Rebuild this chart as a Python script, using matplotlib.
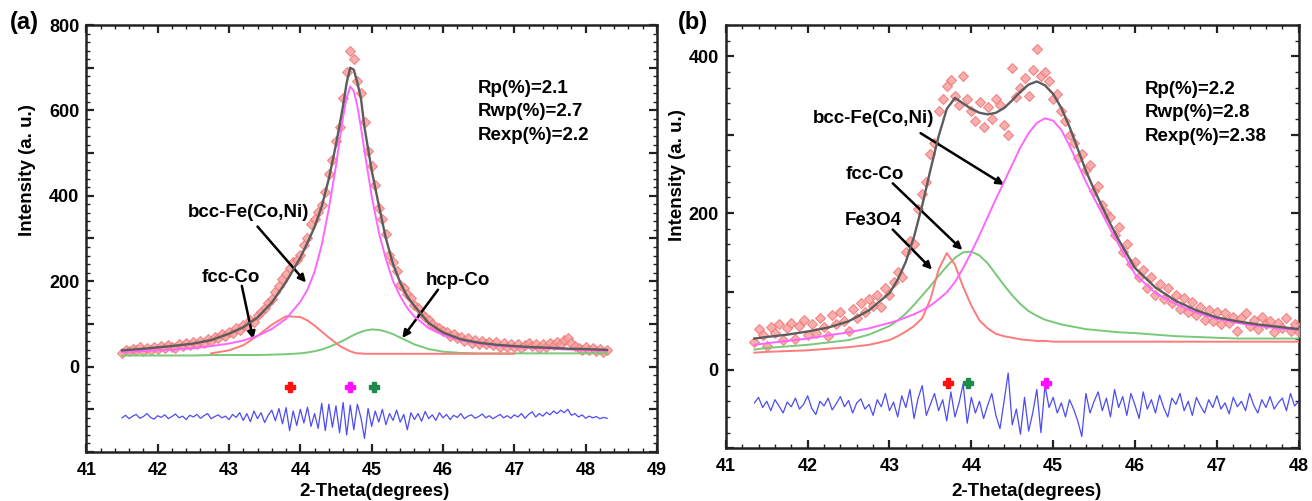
import numpy as np
import matplotlib
matplotlib.use('Agg')
import matplotlib.pyplot as plt
from matplotlib.ticker import MultipleLocator, FuncFormatter

plt.rcParams['font.family'] = ['Liberation Sans', 'DejaVu Sans']
plt.rcParams['font.weight'] = 'bold'

#%% data, panel (a)

xa_fit = [41.5, 41.75, 42.0, 42.25, 42.5, 42.75, 43.0, 43.2, 43.4, 43.6, 43.8,
          44.0, 44.1, 44.2, 44.3, 44.4, 44.5, 44.55, 44.6, 44.65, 44.7, 44.75,
          44.8, 44.85, 44.9, 45.0, 45.1, 45.2, 45.3, 45.4, 45.5, 45.6, 45.8,
          46.0, 46.25, 46.5, 46.75, 47.0, 47.25, 47.5, 47.75, 48.0, 48.3]
tot_a = [38, 41, 45, 49, 54, 62, 77, 92, 115, 150, 198, 255, 290, 327, 375, 440,
         520, 565, 612, 665, 700, 695, 665, 628, 560, 460, 378, 300, 240, 197,
         164, 142, 102, 80, 64, 56, 51, 48, 45.5, 44, 42, 41, 39]
bcc_a = [34, 36, 38, 40, 43, 48, 54, 61, 72, 88, 112, 152, 180, 222, 285, 370,
         470, 530, 585, 630, 656, 645, 610, 560, 505, 400, 315, 252, 200, 165,
         137, 117, 90, 74, 62, 54, 49, 46, 44, 42, 40, 39, 37]
fcc_a = [None, None, None, None, None, 31, 38, 50, 72, 98, 118, 116, 108, 96, 82,
         68, 55, 49, 44, 40, 36, 33, 31, 31, 30, 30, 30, 30, 30, 30, 30, 30, 30,
         30, 30, 30, 30, 30, None, None, None, None, None]
hcp_a = [26, 26, 26, 26, 26, 27, 27, 27, 27, 28, 29, 31, 33, 36, 40, 46, 53, 57,
         61, 65, 70, 74, 78, 81, 84, 87, 86, 82, 76, 68, 60, 52, 41, 35, 32, 31,
         31, 31, 31, 31, 31, 31, 31]

# observed intensities, 41.50 -> 48.30 every 0.05
obs_a = [33, 40, 36, 42, 38, 45, 37, 44, 40, 47,
         42, 49, 44, 51, 46, 43, 53, 48, 55, 50,
         58, 53, 61, 56, 65, 60, 70, 66, 76, 72,
         82, 79, 90, 86, 98, 95, 108, 104, 120, 128,
         138, 150, 158, 175, 188, 205, 218, 232, 245, 250,
         262, 285, 300, 335, 345, 362, 378, 410, 450, 485,
         528, 560, 628, 690, 740, 720, 668, 640, 572, 505,
         470, 425, 372, 345, 310, 262, 245, 225, 190, 185,
         170, 160, 145, 138, 124, 116, 108, 100, 92, 90,
         84, 80, 72, 76, 66, 70, 60, 66, 56, 63,
         54, 61, 52, 58, 50, 57, 47, 55, 46, 53,
         45, 52, 44, 50, 55, 48, 53, 44, 52, 47,
         56, 50, 58, 52, 63, 68, 55, 48, 44, 40,
         45, 38, 43, 36, 41, 34, 38]
diff_a = [-120, -114, -122, -116, -112, -121, -117, -110, -119, -123,
          -115, -119, -113, -122, -117, -111, -120, -116, -124, -114,
          -118, -112, -121, -115, -110, -122, -117, -113, -120, -116,
          -124, -112, -119, -108, -126, -110, -129, -104, -122, -108,
          -131, -114, -102, -127, -98, -134, -96, -150, -104, -138,
          -100, -132, -95, -140, -110, -145, -86, -150, -88, -142,
          -92, -155, -84, -160, -90, -148, -88, -120, -168, -98,
          -140, -104, -130, -100, -136, -110, -126, -102, -130, -112,
          -148, -108, -124, -110, -128, -105, -122, -113, -126, -108,
          -120, -112, -124, -114, -119, -110, -122, -116, -113, -121,
          -117, -111, -120, -115, -122, -117, -112, -120, -115, -121,
          -113, -118, -110, -121, -112, -106, -118, -110, -116, -107,
          -113, -104, -110, -102, -108, -100, -114, -110, -118, -113,
          -121, -116, -120, -117, -122, -119, -121]
refl_a = [43.85, 44.69, 45.03]
refl_a_col = ['#ff1010', '#ff10ff', '#1f8a4c']

#%% data, panel (b)

xb_fit = [41.35, 41.5, 41.75, 42.0, 42.25, 42.5, 42.75, 43.0, 43.1, 43.2, 43.3,
          43.4, 43.5, 43.6, 43.7, 43.8, 43.9, 44.0, 44.1, 44.2, 44.3, 44.4, 44.5,
          44.6, 44.7, 44.8, 44.9, 45.0, 45.1, 45.2, 45.3, 45.4, 45.5, 45.6, 45.7,
          45.8, 46.0, 46.25, 46.5, 46.75, 47.0, 47.25, 47.5, 47.75, 48.0]
tot_b = [40, 42, 45, 49, 54, 62, 76, 98, 115, 138, 170, 210, 255, 298, 333, 347,
         340, 333, 328, 326, 328, 334, 344, 355, 364, 368, 363, 352, 334, 310,
         282, 254, 230, 208, 186, 166, 130, 105, 88, 76, 67, 62, 58, 55, 52]
bcc_b = [32, 34, 37, 40, 44, 48, 53, 60, 63, 67, 71, 76, 82, 90, 99, 112, 130,
         150, 172, 195, 218, 240, 262, 284, 302, 315, 321, 318, 306, 286, 263,
         240, 219, 199, 179, 160, 122, 98, 84, 73, 65, 60, 56, 53, 51]
fe3o4_b = [22, 23, 24, 25, 27, 29, 32, 38, 43, 49, 56, 66, 90, 128, 149, 134,
           106, 82, 63, 53, 46, 43, 41, 39, 38, 37, 37, 36, 36, 36, 36, 36, 36,
           36, 36, 36, 36, 36, 36, 36, 36, 36, 36, 36, 36]
fcc_b = [26, 28, 30, 32, 35, 38, 45, 56, 63, 72, 83, 95, 107, 120, 132, 143, 150,
         151, 146, 136, 122, 108, 95, 84, 75, 69, 64, 61, 58, 56, 54, 52, 51, 50,
         49, 48, 47, 45, 43, 42, 41, 40, 40, 40, 40]

# observed intensities, 41.35 -> 48.00 every 0.05
obs_b = [36, 52, 44, 30, 55, 47, 58, 38, 53, 60,
         40, 56, 64, 45, 59, 47, 66, 55, 43, 70,
         58, 74, 62, 50, 78, 66, 85, 74, 90, 82,
         96, 80, 104, 95, 112, 125, 118, 150, 165, 160,
         205, 225, 240, 275, 290, 330, 345, 362, 370, 350,
         338, 375, 345, 330, 318, 342, 310, 336, 320, 345,
         338, 312, 300, 385, 348, 360, 372, 350, 382, 410,
         375, 380, 368, 345, 352, 330, 318, 300, 290, 270,
         276, 255, 262, 228, 235, 210, 200, 195, 172, 182,
         150, 160, 135, 138, 118, 128, 105, 118, 96, 110,
         90, 104, 85, 96, 78, 92, 74, 86, 70, 80,
         64, 77, 62, 74, 58, 72, 60, 68, 50, 66,
         72, 56, 64, 52, 68, 58, 62, 48, 60, 54,
         66, 50, 58, 48]
diff_b = [-42, -35, -48, -40, -52, -38, -46, -55, -41, -47,
          -36, -50, -44, -33, -49, -57, -40, -46, -36, -51,
          -43, -34, -47, -39, -55, -42, -37, -50, -44, -58,
          -38, -47, -30, -52, -41, -60, -33, -48, -25, -62,
          -36, -20, -58, -44, -30, -52, -38, -65, -28, -60,
          -42, -18, -68, -35, -55, -40, -62, -45, -30, -58,
          -75, -40, -4, -70, -50, -82, -35, -78, -55, -25,
          -80, -20, -48, -35, -55, -42, -60, -38, -50, -65,
          -85, -30, -55, -40, -28, -52, -36, -60, -25, -48,
          -34, -58, -30, -45, -62, -28, -50, -38, -55, -32,
          -48, -60, -36, -44, -30, -52, -40, -58, -35, -46,
          -55, -38, -48, -33, -50, -42, -56, -35, -47, -40,
          -52, -30, -45, -55, -38, -48, -34, -50, -42, -36,
          -52, -30, -46, -40]
refl_b = [43.71, 43.96, 44.91]
refl_b_col = ['#ff1010', '#1f8a4c', '#ff10ff']

#%% figure

W, H = 1312, 501
fig = plt.figure(figsize=(W / 100, H / 100), dpi=100)
axA = fig.add_axes([86.3 / W, 1 - 452 / H, 570.7 / W, 427 / H])
axB = fig.add_axes([725.8 / W, 1 - 448.3 / H, 572.9 / W, 423.3 / H])

GRAY, MAG, RED, GRN, BLUE = '#5c5c5c', '#ff66ff', '#ff7a7a', '#78c878', '#4c4cf2'
FS = 13.5


def arr(v):
    return np.array([np.nan if a is None else a for a in v], dtype=float)


def style(ax, xlim, ylim):
    ax.set_xlim(*xlim)
    ax.set_ylim(*ylim)
    ax.xaxis.set_major_locator(MultipleLocator(1))
    ax.xaxis.set_minor_locator(MultipleLocator(0.2))
    ax.yaxis.set_major_locator(MultipleLocator(100))
    ax.yaxis.set_minor_locator(MultipleLocator(20))
    ax.yaxis.set_major_formatter(
        FuncFormatter(lambda v, p: '%d' % v if (v % 200 == 0 and v >= 0) else ''))
    ax.tick_params(which='both', direction='in', top=True, right=True, colors='#222222')
    ax.tick_params(which='major', length=6, width=1.6, labelsize=13, labelcolor='black')
    ax.tick_params(which='minor', length=3, width=1.0)
    ax.tick_params(axis='x', which='major', pad=7)
    ax.tick_params(axis='y', which='major', pad=5)
    for s in ax.spines.values():
        s.set_linewidth(1.8)
        s.set_color('#222222')


def arrow(ax, tail, head):
    ax.annotate('', xy=head, xytext=tail,
                arrowprops=dict(arrowstyle='-|>', color='black', lw=1.8,
                                mutation_scale=11, shrinkA=0, shrinkB=0))


def panel(ax, xfit, tot, comps, xobs, obs, diff, refl, rcol, ry):
    ax.plot(xobs, diff, color=BLUE, lw=0.9, zorder=2)
    ax.plot(xobs, obs, ls='none', marker='D', ms=4.6, mfc='#f8a0a0', mec='#f07878',
            mew=0.8, alpha=0.85, zorder=3)
    for y, c in comps:
        ax.plot(xfit, arr(y), color=c, lw=1.4, zorder=4)
    ax.plot(xfit, tot, color=GRAY, lw=1.7, zorder=5)
    for x, c in zip(refl, rcol):
        ax.plot(x, ry, marker='P', ms=7, color=c, mec=c, zorder=5)


# panel (a)
xa_obs = np.linspace(41.5, 48.3, len(obs_a))
panel(axA, xa_fit, tot_a, [(hcp_a, GRN), (fcc_a, RED), (bcc_a, MAG)],
      xa_obs, obs_a, diff_a, refl_a, refl_a_col, -47)
style(axA, (41, 49), (-200, 800))

axA.text(43.28, 362, 'bcc-Fe(Co,Ni)', fontsize=FS, ha='center', va='center')
arrow(axA, (43.40, 328), (44.08, 197))
axA.text(43.02, 209, 'fcc-Co', fontsize=FS, ha='center', va='center')
arrow(axA, (43.18, 189), (43.34, 64))
axA.text(46.21, 201, 'hcp-Co', fontsize=FS, ha='center', va='center')
arrow(axA, (45.93, 180), (45.43, 67))
for i, s in enumerate(['Rp(%)=2.1', 'Rwp(%)=2.7', 'Rexp(%)=2.2']):
    axA.text(46.49, 652 - 55 * i, s, fontsize=FS, ha='left', va='center')

# panel (b)
xb_obs = np.linspace(41.35, 48.0, len(obs_b))
panel(axB, xb_fit, tot_b, [(fcc_b, GRN), (fe3o4_b, RED), (bcc_b, MAG)],
      xb_obs, obs_b, diff_b, refl_b, refl_b_col, -17)
style(axB, (41, 48), (-100, 440))

axB.text(42.81, 321, 'bcc-Fe(Co,Ni)', fontsize=FS, ha='center', va='center')
arrow(axB, (43.38, 302), (44.40, 236))
axB.text(42.82, 249, 'fcc-Co', fontsize=FS, ha='center', va='center')
arrow(axB, (43.04, 238), (43.89, 153))
axB.text(42.80, 191, 'Fe3O4', fontsize=FS, ha='center', va='center')
arrow(axB, (43.04, 179), (43.52, 128))
for i, s in enumerate(['Rp(%)=2.2', 'Rwp(%)=2.8', 'Rexp(%)=2.38']):
    axB.text(46.12, 358 - 30 * i, s, fontsize=FS, ha='left', va='center')

# axis labels and panel letters
for cx, cy in [(28, 170), (678, 175)]:
    fig.text(cx / W, 1 - cy / H, 'Intensity (a. u.)', rotation=90, ha='center',
             va='center', fontsize=FS)
for cx in [375, 1026]:
    fig.text(cx / W, 1 - 492 / H, '2-Theta(degrees)', ha='center', va='center', fontsize=FS)
for cx, lab in [(24, '(a)'), (693, '(b)')]:
    fig.text(cx / W, 1 - 22 / H, lab, ha='center', va='center', fontsize=17)

fig.savefig('out.png', dpi=100, facecolor='white')
